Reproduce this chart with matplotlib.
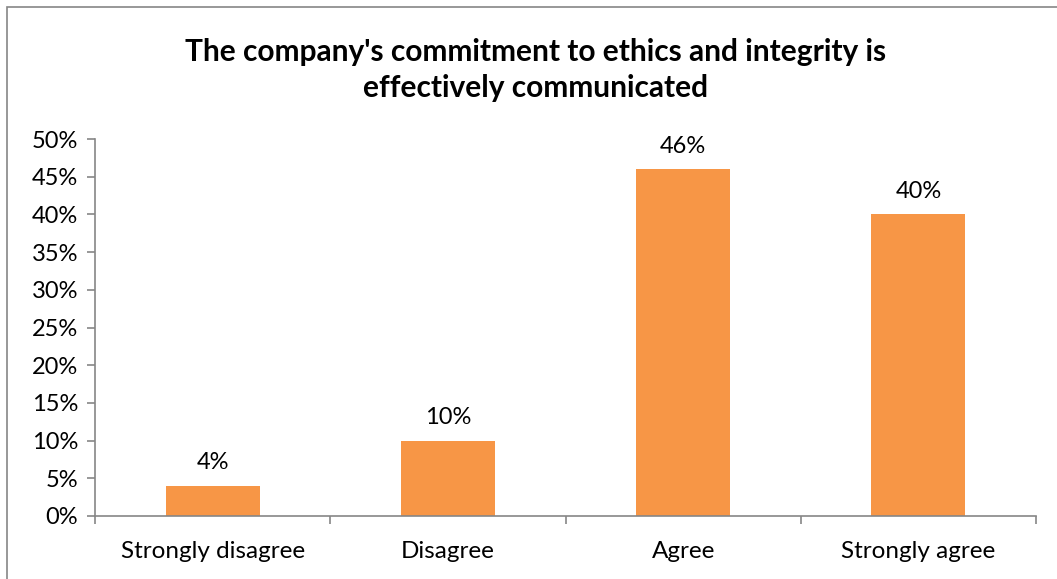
import matplotlib.pyplot as plt
import matplotlib.patches as patches
from matplotlib.ticker import MultipleLocator, PercentFormatter

plt.rcParams['font.family'] = ['Lato', 'DejaVu Sans']

categories = ["Strongly disagree", "Disagree", "Agree", "Strongly agree"]
shares = [4, 10, 46, 40]
title = "The company's commitment to ethics and integrity is\neffectively communicated"

BAR_COLOR = "#F79646"
AXIS_COLOR = "#868686"

W, H = 1057, 579
fig = plt.figure(figsize=(W / 100, H / 100), dpi=100)
ax = fig.add_axes([95 / W, (H - 516) / H, (1036 - 95) / W, (516 - 139) / H])

# chart-area frame
fig.patches.append(patches.Rectangle((7 / W, -0.05), 1.1, 1 - 7 / H + 0.05,
                                     transform=fig.transFigure, fill=False,
                                     edgecolor=AXIS_COLOR, linewidth=1.2))

x = range(len(categories))
bars = ax.bar(x, shares, width=0.4, color=BAR_COLOR)
for b, v in zip(bars, shares):
    ax.annotate(f"{v}%", (b.get_x() + b.get_width() / 2, v), xytext=(0, 9),
                textcoords="offset points", ha="center", va="bottom", fontsize=17)

ax.set_xlim(-0.5, len(categories) - 0.5)
ax.set_ylim(0, 50)
ax.yaxis.set_major_locator(MultipleLocator(5))
ax.yaxis.set_major_formatter(PercentFormatter(decimals=0))

ax.set_xticks([i - 0.5 for i in range(len(categories) + 1)])
ax.set_xticklabels([])
ax.set_xticks(list(x), minor=True)
ax.set_xticklabels(categories, minor=True)
ax.tick_params(axis="x", which="minor", length=0, labelsize=17.5, pad=18)
ax.tick_params(axis="x", which="major", length=6, color=AXIS_COLOR, width=1.2)
ax.tick_params(axis="y", length=6, color=AXIS_COLOR, width=1.2, labelsize=17, pad=6)

for side in ("top", "right"):
    ax.spines[side].set_visible(False)
for side in ("left", "bottom"):
    ax.spines[side].set_color(AXIS_COLOR)
    ax.spines[side].set_linewidth(1.2)

fig.text(536 / W, 1 - 70 / H, title, ha="center", va="center",
         fontsize=21.5, fontweight="bold", linespacing=1.38)

fig.savefig("out.png", dpi=100)
